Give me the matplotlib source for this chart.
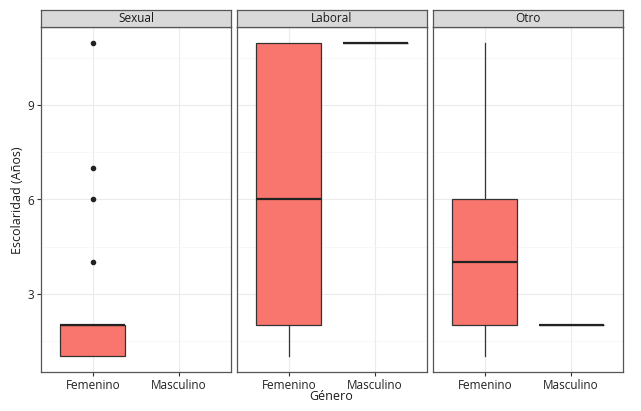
import matplotlib.pyplot as plt
from matplotlib.ticker import MultipleLocator

plt.rcParams["font.family"] = ["Open Sans", "DejaVu Sans"]

# ---------------------------------------------------------------
# Data: box statistics per facet and gender
# ---------------------------------------------------------------
facets = ["Sexual", "Laboral", "Otro"]
genders = ["Femenino", "Masculino"]

# per facet: [Femenino, Masculino]; None = no data
q1 = [[1, None], [2, 11], [2, 2]]
med = [[2, None], [6, 11], [4, 2]]
q3 = [[2, None], [11, 11], [6, 2]]
whis_lo = [[1, None], [1, 11], [1, 2]]
whis_hi = [[2, None], [11, 11], [11, 2]]
outliers = [[[4, 6, 7, 11], []], [[], []], [[], []]]

fill = "#F8766D"
edge = "#333333"

fig = plt.figure(figsize=(6.41, 4.11), dpi=100)
W, H = 641, 411
lefts = [41, 237, 433]
pw = 190
top, bottom = 27, 372
strip_h = 17

for k, name in enumerate(facets):
    ax = fig.add_axes([lefts[k] / W, 1 - bottom / H, pw / W, (bottom - top) / H])
    stats = []
    pos = []
    for g in range(2):
        if med[k][g] is None:
            continue
        stats.append(dict(q1=q1[k][g], med=med[k][g], q3=q3[k][g],
                          whislo=whis_lo[k][g], whishi=whis_hi[k][g],
                          fliers=outliers[k][g]))
        pos.append(g + 1)
    ax.bxp(stats, positions=pos, widths=0.75, patch_artist=True,
           showcaps=False,
           boxprops=dict(facecolor=fill, edgecolor=edge, linewidth=0.9),
           medianprops=dict(color="#222222", linewidth=1.6),
           whiskerprops=dict(color=edge, linewidth=0.9),
           flierprops=dict(marker="o", markersize=3, markerfacecolor="#222222",
                           markeredgecolor="#222222"))
    ax.set_xlim(0.4, 2.6)
    ax.set_ylim(0.5, 11.5)
    ax.set_xticks([1, 2])
    ax.set_xticklabels(genders, fontsize=8.5, color="#222222")
    ax.yaxis.set_major_locator(MultipleLocator(3))
    ax.yaxis.set_minor_locator(MultipleLocator(1.5))
    ax.grid(which="major", color="#ebebeb", linewidth=0.8)
    ax.grid(which="minor", axis="y", color="#f4f4f4", linewidth=0.5)
    ax.set_axisbelow(True)
    ax.tick_params(axis="both", which="major", length=3, color="#333333",
                   labelsize=8.5, labelcolor="#222222", pad=2)
    ax.tick_params(axis="y", which="minor", length=0)
    if k > 0:
        ax.tick_params(axis="y", which="major", left=False, labelleft=False)
    for s in ax.spines.values():
        s.set_color("#555555")
        s.set_linewidth(0.9)

    # strip
    sax = fig.add_axes([lefts[k] / W, 1 - top / H, pw / W, strip_h / H])
    sax.set_facecolor("#d9d9d9")
    sax.set_xticks([])
    sax.set_yticks([])
    for s in sax.spines.values():
        s.set_color("#555555")
        s.set_linewidth(0.9)
    sax.text(0.5, 0.5, name, ha="center", va="center", fontsize=8.5,
             color="#1a1a1a", transform=sax.transAxes)

fig.text(18 / W, 1 - 200 / H, "Escolaridad (Años)", rotation=90,
         ha="center", va="center", fontsize=9, color="#1a1a1a")
fig.text(331 / W, 1 - 396 / H, "Género", ha="center", va="center",
         fontsize=9, color="#1a1a1a")

fig.savefig("out.png", dpi=100)
